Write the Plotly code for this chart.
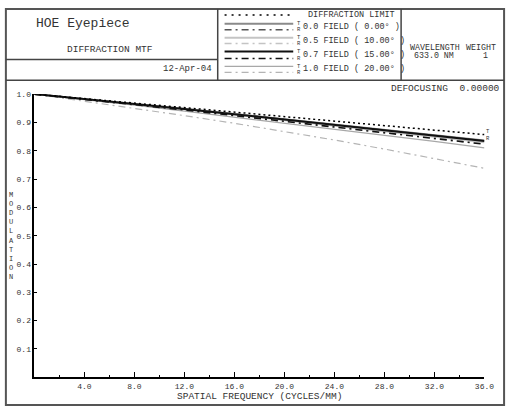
import plotly.graph_objects as go

W, H = 518, 407

# ---- data ----
freq = [0, 4, 8, 12, 16, 20, 24, 28, 32, 36]
diff_limit = [1.000, 0.984, 0.968, 0.952, 0.936, 0.920, 0.904, 0.888, 0.872, 0.857]
f00_t = [1.000, 0.983, 0.966, 0.948, 0.930, 0.911, 0.892, 0.873, 0.854, 0.836]
f00_r = [1.000, 0.983, 0.965, 0.947, 0.929, 0.910, 0.891, 0.872, 0.853, 0.834]
f05_t = [1.000, 0.983, 0.965, 0.947, 0.928, 0.909, 0.889, 0.869, 0.849, 0.830]
f05_r = [1.000, 0.982, 0.964, 0.945, 0.926, 0.906, 0.886, 0.866, 0.845, 0.825]
f07_t = [1.000, 0.983, 0.965, 0.947, 0.929, 0.910, 0.891, 0.872, 0.853, 0.834]
f07_r = [1.000, 0.982, 0.963, 0.944, 0.924, 0.904, 0.884, 0.864, 0.843, 0.823]
f10_t = [1.000, 0.981, 0.961, 0.940, 0.919, 0.898, 0.877, 0.855, 0.833, 0.810]
f10_r = [1.000, 0.975, 0.950, 0.924, 0.897, 0.868, 0.838, 0.806, 0.772, 0.738]

x_ticks = [4, 8, 12, 16, 20, 24, 28, 32, 36]
x_minor = [2, 6, 10, 14, 18, 22, 26, 30, 34]
y_ticks = [0.1, 0.2, 0.3, 0.4, 0.5, 0.6, 0.7, 0.8, 0.9, 1.0]

legend_labels = ["0.0 FIELD ( 0.00\u00b0 )", "0.5 FIELD ( 10.00\u00b0 )",
                 "0.7 FIELD ( 15.00\u00b0 )", "1.0 FIELD ( 20.00\u00b0 )"]

FONT = "Liberation Mono, Courier New, monospace"
DASHDOT = "7px,4px,2px,4px"

def px(x):
    return x / W

def py(y):
    return 1 - y / H

series = [
    (f00_t, "#8a8a8a", 2.0, "solid"),
    (f00_r, "#555555", 1.5, DASHDOT),
    (f05_t, "#c4c4c4", 2.0, "solid"),
    (f05_r, "#c4c4c4", 1.5, DASHDOT),
    (f10_t, "#a8a8a8", 1.2, "solid"),
    (f10_r, "#b4b4b4", 1.2, DASHDOT),
    (f07_t, "#111111", 2.0, "solid"),
    (f07_r, "#111111", 1.6, DASHDOT),
]

fig = go.Figure()
for vals, col, wd, dash in series:
    fig.add_trace(go.Scatter(x=freq, y=vals, mode="lines",
                             line=dict(color=col, width=wd, dash=dash),
                             showlegend=False, hoverinfo="skip"))
fig.add_trace(go.Scatter(x=freq, y=diff_limit, mode="lines",
                         line=dict(color="#000000", width=1.5, dash="2px,3px"),
                         showlegend=False, hoverinfo="skip"))

shapes = []
shapes.append(dict(type="rect", xref="paper", yref="paper",
                   x0=px(6), x1=px(514), y0=py(405), y1=py(5),
                   line=dict(color="#555555", width=2)))

def hline(x0, x1, y, w=1.5):
    shapes.append(dict(type="line", xref="paper", yref="paper",
                       x0=px(x0), x1=px(x1), y0=py(y), y1=py(y),
                       line=dict(color="#444444", width=w)))

def vline(x, y0, y1, w=1.5):
    shapes.append(dict(type="line", xref="paper", yref="paper",
                       x0=px(x), x1=px(x), y0=py(y0), y1=py(y1),
                       line=dict(color="#444444", width=w)))

hline(6, 514, 77)
hline(6, 222, 56)
vline(222, 5, 77)
vline(409, 5, 77)

def lsample(y, col, wd, dash):
    shapes.append(dict(type="line", xref="paper", yref="paper",
                       x0=px(229), x1=px(299), y0=py(y), y1=py(y),
                       line=dict(color=col, width=wd, dash=dash)))

lsample(11, "#000000", 1.5, "2px,5px")
leg_rows = [(20, 26), (34, 40), (48, 55), (63, 69)]
leg_styles = [(series[0], series[1]), (series[2], series[3]),
              (series[6], series[7]), (series[4], series[5])]
for (yt, yr), (st, sr) in zip(leg_rows, leg_styles):
    lsample(yt, st[1], st[2], st[3])
    lsample(yr, sr[1], sr[2], sr[3])

ann = []
def txt(x, y, s, size, anchor="left", color="#333333"):
    ann.append(dict(xref="paper", yref="paper", x=px(x), y=py(y), text=s,
                    showarrow=False, xanchor=anchor, yanchor="middle",
                    font=dict(family=FONT, size=size, color=color)))

txt(35, 20, "HOE Eyepiece", 13)
txt(112, 46, "DIFFRACTION MTF", 9.5, "center")
txt(218, 66, "12-Apr-04", 9, "right")
txt(312, 11, "DIFFRACTION LIMIT", 8.5)
for (yt, yr), lab in zip(leg_rows, legend_labels):
    txt(307, (yt + yr) / 2, lab, 8.5)
    txt(301, yt, "T", 5.5)
    txt(301, yr, "R", 5.5)
txt(416, 44, "WAVELENGTH", 8.3)
txt(508, 44, "WEIGHT", 8.3, "right")
txt(420, 52, "633.0 NM", 8.3)
txt(495, 52, "1", 8.3, "center")
txt(512, 85, "DEFOCUSING  0.00000", 9.5, "right")
txt(265, 396, "SPATIAL FREQUENCY (CYCLES/MM)", 9.5, "center")
ann.append(dict(xref="paper", yref="paper", x=px(12), y=py(234),
                text="<br>".join(list("MODULATION")), showarrow=False,
                xanchor="center", yanchor="middle",
                font=dict(family=FONT, size=7, color="#333333")))
ann.append(dict(xref="x", yref="paper", x=freq[-1], xshift=4, y=py(129), text="T",
                showarrow=False, xanchor="center", yanchor="middle",
                font=dict(family=FONT, size=5.5, color="#333333")))
ann.append(dict(xref="x", yref="paper", x=freq[-1], xshift=4, y=py(136), text="R",
                showarrow=False, xanchor="center", yanchor="middle",
                font=dict(family=FONT, size=5.5, color="#333333")))

fig.update_layout(
    width=W, height=H, margin=dict(l=0, r=0, t=0, b=0),
    paper_bgcolor="white", plot_bgcolor="white",
    shapes=shapes, annotations=ann,
    xaxis=dict(domain=[px(35), px(494)], range=[0, 36], showgrid=False, zeroline=False,
               showline=True, linecolor="#000000", linewidth=1.5,
               tickmode="array", tickvals=x_ticks,
               ticktext=["%.1f" % v for v in x_ticks],
               ticks="inside", ticklen=6, tickwidth=1.2, tickcolor="#000000",
               minor=dict(tickmode="array", tickvals=x_minor, ticks="inside",
                          ticklen=3, tickwidth=1, tickcolor="#000000"),
               tickfont=dict(family=FONT, size=8, color="#333333")),
    yaxis=dict(domain=[py(377), py(91)], range=[0, 1.0], showgrid=False, zeroline=False,
               showline=True, linecolor="#000000", linewidth=1.5,
               tickmode="array", tickvals=y_ticks,
               ticktext=["%.1f" % v for v in y_ticks],
               ticks="inside", ticklen=3, tickwidth=1.2, tickcolor="#000000",
               tickfont=dict(family=FONT, size=8, color="#333333")),
)

fig.write_html("out.html", config={"displayModeBar": False},
               post_script="document.body.style.margin='0';document.body.style.overflow='hidden';")
